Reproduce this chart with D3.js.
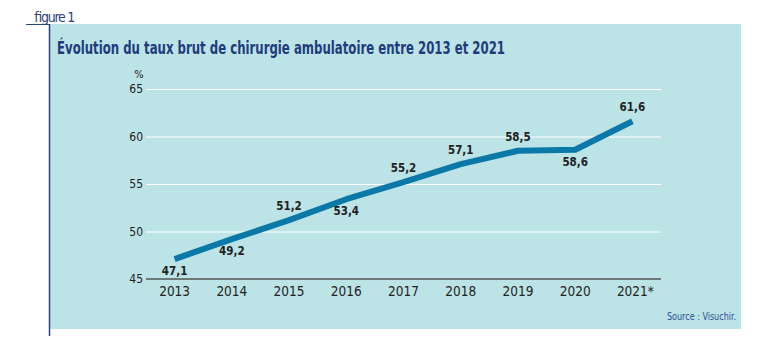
<!DOCTYPE html>
<html>
<head>
<meta charset="utf-8">
<script src="https://cdn.jsdelivr.net/npm/d3@7"></script>
<style>
  body { margin: 0; background: #fff; }
  svg text { font-family: "Liberation Sans Narrow", "DejaVu Sans Condensed", "Roboto", sans-serif; }
</style>
</head>
<body>
<svg id="chart"></svg>
<script>
var years = ["2013", "2014", "2015", "2016", "2017", "2018", "2019", "2020", "2021*"];
var rates = [47.1, 49.2, 51.2, 53.4, 55.2, 57.1, 58.5, 58.6, 61.6];
var labelSide = [1, 1, -1, 1, -1, -1, -1, 1, -1]; // 1 = below the line, -1 = above
var yTicks = [45, 50, 55, 60, 65];

var width = 772, height = 354;
var svg = d3.select("#chart").attr("width", width).attr("height", height);

// panel
svg.append("rect")
    .attr("x", 49).attr("y", 24)
    .attr("width", 692).attr("height", 305)
    .attr("fill", "#bce3e6");

svg.append("line")
    .attr("x1", 49.5).attr("x2", 49.5)
    .attr("y1", 24).attr("y2", 336)
    .attr("stroke", "#2b4383").attr("stroke-width", 1.5);

svg.append("line")
    .attr("x1", 26).attr("x2", 50)
    .attr("y1", 24.5).attr("y2", 24.5)
    .attr("stroke", "#2b4383").attr("stroke-width", 1);

svg.append("text")
    .attr("x", 33).attr("y", 22)
    .attr("font-size", 14)
    .attr("fill", "#2b4383")
    .attr("textLength", 41)
    .text("figure 1");

svg.append("text")
    .attr("x", 57).attr("y", 54)
    .attr("font-size", 18)
    .attr("font-weight", "bold")
    .attr("fill", "#1f3c7c")
    .attr("textLength", 448)
    .attr("lengthAdjust", "spacingAndGlyphs")
    .text("Évolution du taux brut de chirurgie ambulatoire entre 2013 et 2021");

var x = d3.scalePoint().domain(years).range([146, 661]).padding(0.5);
var y = d3.scaleLinear().domain([45, 65]).range([279, 89]);

// gridlines
svg.append("g")
    .selectAll("line")
    .data(yTicks.slice(1))
    .join("line")
    .attr("x1", 146).attr("x2", 661)
    .attr("y1", d => y(d) + 0.5).attr("y2", d => y(d) + 0.5)
    .attr("stroke", "#fff").attr("stroke-width", 1);

// y labels
svg.append("g")
    .selectAll("text")
    .data(yTicks)
    .join("text")
    .attr("x", 143)
    .attr("y", d => y(d) + 4)
    .attr("text-anchor", "end")
    .attr("font-size", 12)
    .attr("fill", "#222")
    .text(d => d);

svg.append("text")
    .attr("x", 139).attr("y", 78)
    .attr("text-anchor", "middle")
    .attr("font-size", 11)
    .attr("fill", "#222")
    .text("%");

// x axis
svg.append("line")
    .attr("x1", 146).attr("x2", 661)
    .attr("y1", 279).attr("y2", 279)
    .attr("stroke", "#555").attr("stroke-width", 1.5);

svg.append("g")
    .selectAll("text")
    .data(years)
    .join("text")
    .attr("x", d => x(d) + (d.endsWith("*") ? 3 : 0))
    .attr("y", 296)
    .attr("text-anchor", "middle")
    .attr("font-size", 13.5)
    .attr("fill", "#222")
    .text(d => d);

// line
var data = years.map((d, i) => ({year: d, value: rates[i], side: labelSide[i]}));

var line = d3.line()
    .x(d => x(d.year))
    .y(d => y(d.value));

svg.append("path")
    .datum(data)
    .attr("d", line)
    .attr("fill", "none")
    .attr("stroke", "#0b79a8")
    .attr("stroke-width", 6)
    .attr("stroke-linejoin", "round");

// value labels
svg.append("g")
    .selectAll("text")
    .data(data)
    .join("text")
    .attr("x", d => x(d.year))
    .attr("y", d => y(d.value) + (d.side > 0 ? 16 : -10))
    .attr("text-anchor", "middle")
    .attr("font-size", 11.5)
    .attr("font-weight", "bold")
    .attr("fill", "#222")
    .text(d => d3.format(".1f")(d.value).replace(".", ","));

svg.append("text")
    .attr("x", 736).attr("y", 320)
    .attr("text-anchor", "end")
    .attr("font-size", 11)
    .attr("fill", "#2a4f96")
    .attr("textLength", 69)
    .attr("lengthAdjust", "spacingAndGlyphs")
    .text("Source : Visuchir.");
</script>
</body>
</html>
